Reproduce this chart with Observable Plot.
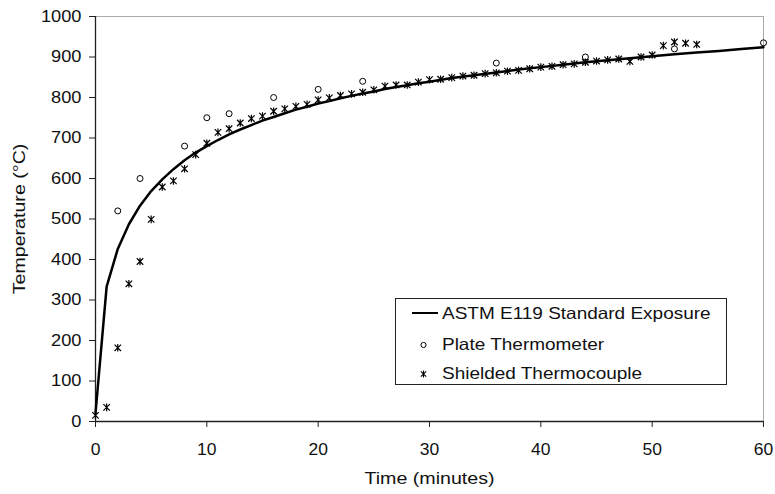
<!DOCTYPE html>
<html><head><meta charset="utf-8">
<script src="https://cdn.jsdelivr.net/npm/d3@7"></script>
<script src="https://cdn.jsdelivr.net/npm/@observablehq/plot@0.6"></script>
<style>
body{margin:0;background:#fff;font-family:"Liberation Sans",Arial,sans-serif;}
#wrap{position:relative;width:775px;height:494px;}
.legend{position:absolute;left:395px;top:298px;width:332px;height:87px;box-sizing:border-box;border:1px solid #222;background:#fff;font-size:16.5px;color:#111;}
.row{position:absolute;left:0;height:20px;display:flex;align-items:center;white-space:nowrap;}
.row svg{width:46px;height:20px;flex:none;}
.row span{display:inline-block;transform:scaleX(1.15);transform-origin:left center;}
</style>
</head><body><div id="wrap"></div>
<script>
// ASTM E119 standard exposure curve
const astmTime = [0,1,2,3,4,5,6,7,8,9,10,11,12,13,14,15,16,17,18,19,20,21,22,23,24,25,26,27,28,29,30,32,34,36,38,40,42,44,46,48,50,52,54,56,58,60];
const astmTemp = [20,333,426,487,533,569,598,623,645,664,680,695,709,721,732,743,752,761,770,777,785,791,798,804,810,815,821,826,830,835,839,848,855,862,869,875,881,887,892,897,902,907,911,915,920,924];
// Plate thermometer readings
const plateTime = [2,4,8,10,12,16,20,24,36,44,52,60];
const plateTemp = [520,600,680,750,760,800,820,840,885,900,920,935];
// Shielded thermocouple readings
const tcTime = [0,1,2,3,4,5,6,7,8,9,10,11,12,13,14,15,16,17,18,19,20,21,22,23,24,25,26,27,28,29,30,31,32,33,34,35,36,37,38,39,40,41,42,43,44,45,46,47,48,49,50,51,52,53,54];
const tcTemp = [15,35,182,340,395,499,579,594,624,659,687,714,723,737,748,754,766,772,778,783,794,799,805,809,813,819,828,831,831,838,844,845,849,853,855,859,861,865,867,871,875,877,881,883,887,890,893,895,889,900,905,928,937,934,931];
const xTicks = [0,10,20,30,40,50,60];
const yTicks = [0,100,200,300,400,500,600,700,800,900,1000];
const xLabel = "Time (minutes)";
const yLabel = "Temperature (°C)";
const seriesNames = ["ASTM E119 Standard Exposure","Plate Thermometer","Shielded Thermocouple"];

const astm = astmTime.map((t,i)=>({t, v: astmTemp[i]}));
const plate = plateTime.map((t,i)=>({t, v: plateTemp[i]}));
const tc = tcTime.map((t,i)=>({t, v: tcTemp[i]}));

const asterisk = {draw(ctx, size){
  const r = Math.sqrt(size/Math.PI); const a = r*0.85;
  ctx.moveTo(-a,-a); ctx.lineTo(a,a);
  ctx.moveTo(a,-a); ctx.lineTo(-a,a);
  ctx.moveTo(0,-r); ctx.lineTo(0,r);
}};

const font = '"Liberation Sans", Arial, sans-serif';
const chart = Plot.plot({
  width: 775, height: 494,
  marginLeft: 95, marginRight: 12, marginTop: 16, marginBottom: 73,
  style: {fontFamily: font, fontSize: "16.5px", color: "#111", background: "#fff"},
  x: {domain: [0,60]},
  y: {domain: [0,1000]},
  marks: [
    Plot.frame({stroke: "#aaa"}),
    Plot.axisY({ticks: yTicks, tickFormat: d => String(d), tickSize: 6, tickPadding: 8, fontSize: 16, label: null, stroke: "#222"}),
    Plot.axisY({ticks: [], tickSize: 0, label: yLabel, labelAnchor: "center", labelArrow: "none", labelOffset: 82, fontSize: 16.5}),
    Plot.axisX({ticks: xTicks, tickFormat: d => String(d), tickSize: 6, tickPadding: 15, fontSize: 17, label: null, stroke: "#222"}),
    Plot.axisX({ticks: [], tickSize: 0, label: xLabel, labelAnchor: "center", labelArrow: "none", labelOffset: 62, fontSize: 16.5}),
    Plot.ruleX([0], {stroke: "#222", strokeWidth: 1.3}),
    Plot.ruleY([0], {stroke: "#222", strokeWidth: 1.3}),
    Plot.line(astm, {x: "t", y: "v", stroke: "#000", strokeWidth: 2.5}),
    Plot.dot(plate, {x: "t", y: "v", r: 3, stroke: "#000", strokeWidth: 1, fill: "none"}),
    Plot.dot(tc, {x: "t", y: "v", r: 3.8, symbol: asterisk, stroke: "#000", strokeWidth: 1.2, fill: "none"})
  ]
});
const wrap = document.getElementById("wrap");
wrap.appendChild(chart);

// widen glyphs horizontally to match the reference's stretched text
function widenEl(el, s){
  const b = el.getBBox();
  const anchor = getComputedStyle(el).textAnchor;
  const cx = anchor === "end" ? b.x + b.width : anchor === "middle" ? b.x + b.width/2 : b.x;
  const old = el.getAttribute("transform") || "";
  el.setAttribute("transform", old + ` translate(${cx},0) scale(${s},1) translate(${-cx},0)`);
}
const yTickStr = yTicks.map(String), xTickStr = xTicks.map(String);
chart.querySelectorAll("text").forEach(el => {
  const t = el.textContent.trim();
  if (t === xLabel || t === yLabel) widenEl(el, 1.19);
  else if (el.closest("[aria-label='y-axis tick label']") && yTickStr.includes(t)) widenEl(el, 1.14);
  else if (el.closest("[aria-label='x-axis tick label']") && xTickStr.includes(t)) widenEl(el, 1.03);
});

const legend = document.createElement("div");
legend.className = "legend";
const symbols = [
  '<svg viewBox="0 0 46 20"><line x1="16" y1="10" x2="42" y2="10" stroke="#000" stroke-width="2"/></svg>',
  '<svg viewBox="0 0 46 20"><circle cx="27.5" cy="11" r="2.6" fill="none" stroke="#000" stroke-width="1"/></svg>',
  '<svg viewBox="0 0 46 20"><path d="M24.8,8.3L30.2,13.7M30.2,8.3L24.8,13.7M27.5,7.5V14.5" stroke="#000" stroke-width="1.1" fill="none"/></svg>'
];
const tops = [4, 35, 64];
seriesNames.forEach((name,i)=>{
  const row = document.createElement("div");
  row.className = "row";
  row.style.top = tops[i] + "px";
  row.innerHTML = symbols[i] + '<span>' + name + '</span>';
  legend.appendChild(row);
});
wrap.appendChild(legend);
</script>
</body></html>
